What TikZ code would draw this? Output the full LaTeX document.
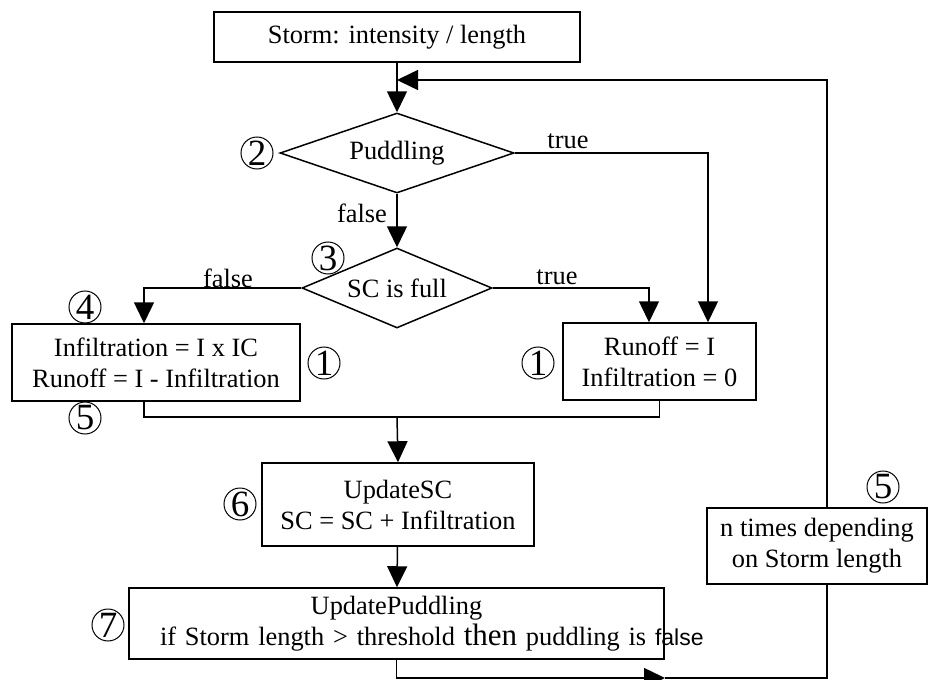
\documentclass[tikz,border=0pt]{standalone}
\usepackage{fontspec}
\setmainfont{Liberation Serif}
\newfontfamily\arialfont{Liberation Sans}
\usetikzlibrary{shapes.geometric, arrows.meta}

\begin{document}
\begin{tikzpicture}[
            x=0.5pt, y=-0.5pt, line width=0.75pt,
            every node/.style={font=\fontsize{13.2}{15.5}\selectfont, align=center}, % Times-like text
            block/.style={rectangle, draw, inner sep=0pt},
            decision/.style={diamond, draw, inner sep=0pt, aspect=2.6},
            stepnum/.style={circle, draw, line width=0.5pt, minimum size=16pt, inner sep=0pt,
                font=\fontsize{18.5}{18.5}\selectfont},
            arr/.style={-{Triangle[length=10.5pt, width=10pt]}}
            ]
        \useasboundingbox (0,0) rectangle (928,680);

            % Boxes and decisions
            \node[block, minimum width=183pt, minimum height=25pt] (storm) at (397,37) {Storm: intensity / length};
            \node[decision, minimum width=117pt, minimum height=40pt] (puddle) at (397,153) {Puddling};
            \node[decision, minimum width=95pt, minimum height=40pt] (scfull) at (397,288) {SC is full};
            \node[block, minimum width=144pt, minimum height=38.5pt] (infil) at (156,362.5) {Infiltration = I x IC\\Runoff = I - Infiltration};
            \node[block, minimum width=96.5pt, minimum height=38.5pt] (runoff) at (659.5,361.5) {Runoff = I\\Infiltration = 0};
            \node[block, minimum width=136pt, minimum height=41.5pt] (updsc) at (398,504.5) {UpdateSC\\SC = SC + Infiltration};
            \node[block, text width=267.5pt, minimum height=35.5pt] (updpud) at (396.5,623.5) {UpdatePuddling\\
                \makebox[\linewidth][l]{\hspace*{15.5pt}if Storm length > threshold {\fontsize{15.5}{15.5}\selectfont then} puddling is {\arialfont\fontsize{11.5}{15.5}\selectfont false}}};
            \node[block, minimum width=110pt, minimum height=38pt] (ntimes) at (817,546) {n times depending\\on Storm length};

            % Step numbers
            \node[stepnum] (n2) at (257,153) {\raisebox{-2.5pt}{2}};
            \node[stepnum] (n3) at (328,258) {\raisebox{-2.5pt}{3}};
            \node[stepnum] (n4) at (85,307) {\raisebox{-2.5pt}{4}};
            \node[stepnum] (n1a) at (324,363) {\raisebox{-2.5pt}{1}};
            \node[stepnum] (n1b) at (538,363) {\raisebox{-2.5pt}{1}};
            \node[stepnum] (n5a) at (85,418) {\raisebox{-2.5pt}{5}};
            \node[stepnum] (n6) at (240,504) {\raisebox{-2.5pt}{6}};
            \node[stepnum] (n7) at (108,625) {\raisebox{-2.5pt}{7}};
            \node[stepnum] (n5b) at (883,487) {\raisebox{-2.5pt}{5}};

            % Branch labels
            \node (ptrue) at (568,141) {true};
            \node (pfalse) at (362,213) {false};
            \node (sfalse) at (228,278) {false};
            \node (strue) at (557,277) {true};

            % Connectors
            \draw[arr] (storm.south) -- (puddle.north);
            \draw[arr] (puddle.south) -- (scfull.north);
            \draw[arr] (puddle.east) -| ([xshift=24.25pt]runoff.north);
            \draw[arr] (scfull.west) -| ([xshift=-6pt]infil.north);
            \draw[arr] (scfull.east) -| ([xshift=-5.25pt]runoff.north);

            \coordinate (merge) at (397,417);
            \draw ([xshift=-6pt]infil.south) |- (merge) -| (runoff.south);
            \draw[arr] (merge) -- (updsc.north);
            \draw[arr] (updsc) -- (updpud);

            % Loop back to the top
            \coordinate (tip) at (665,678);
            \coordinate (lb) at (827,678);
            \coordinate (lt) at (827,80);
            \draw[arr] (updpud.south) |- (tip);
            \draw (tip) -- (lb) -- (ntimes.south -| lb);
            \draw[arr] (ntimes.north -| lt) -- (lt) -- (storm.south |- lt);

\end{tikzpicture}
\end{document}
